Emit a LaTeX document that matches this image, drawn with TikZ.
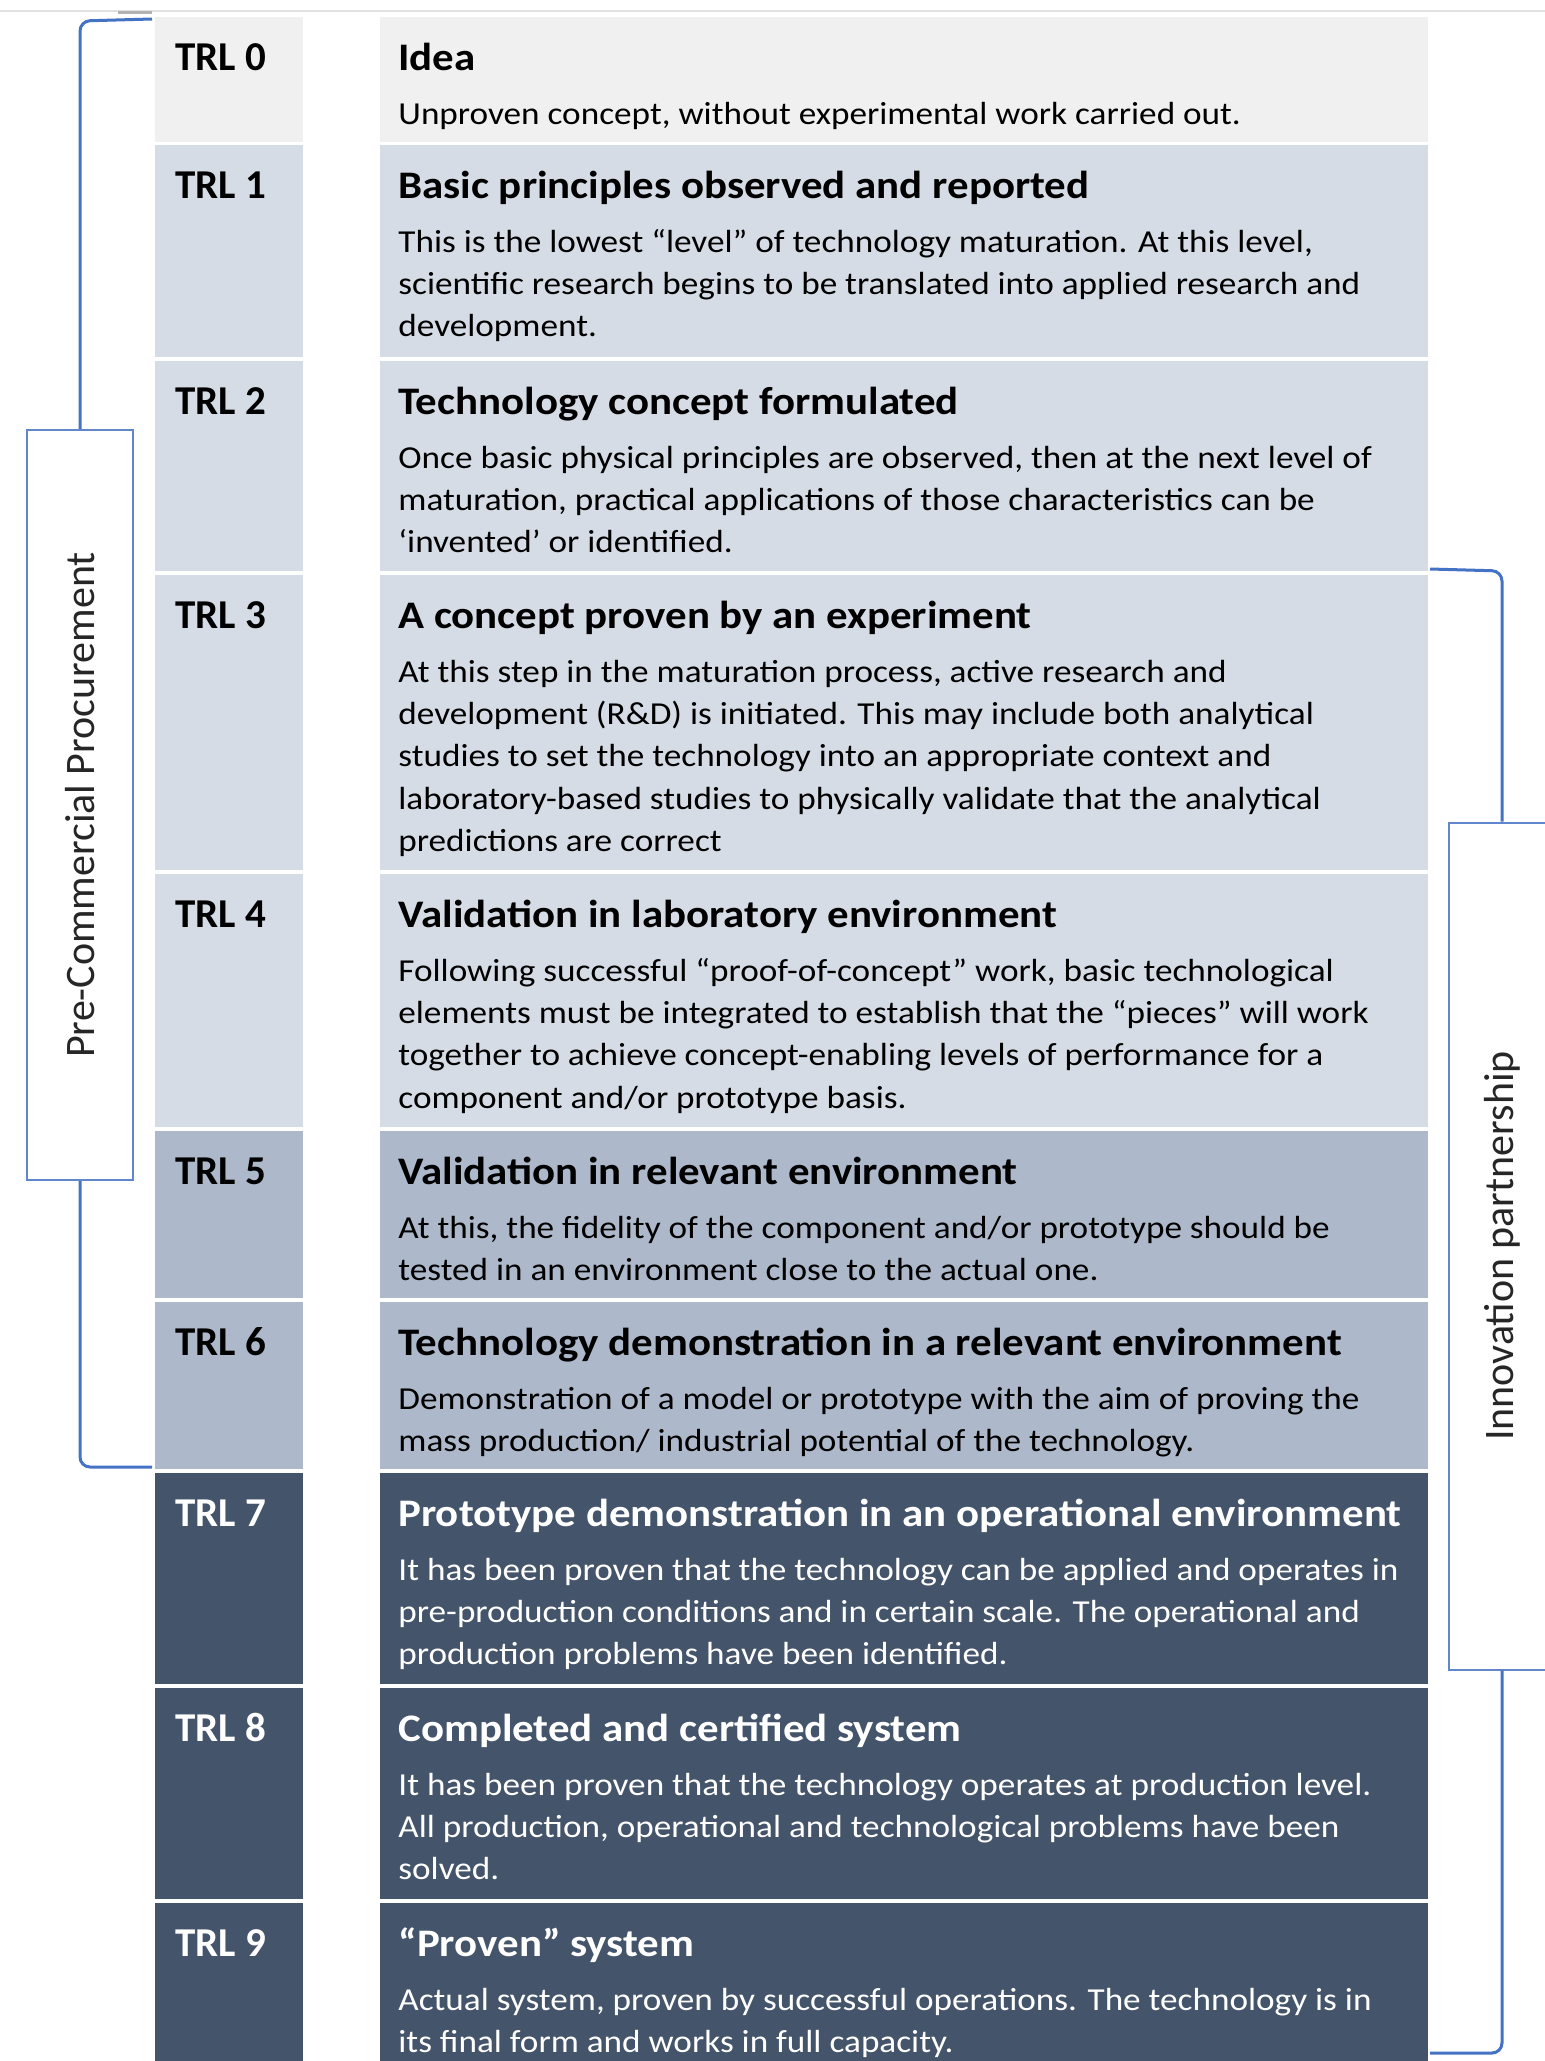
\documentclass[tikz,border=0pt]{standalone}
\usepackage{fontspec}
\setmainfont{Carlito}
\newfontfamily\widefont{Carlito}[FakeStretch=1.1]
\definecolor{rowA}{HTML}{F0F0F0}
\definecolor{rowB}{HTML}{D6DCE5}
\definecolor{rowC}{HTML}{ADB9CA}
\definecolor{rowD}{HTML}{44546A}
\definecolor{brk}{HTML}{4472C4}
\newcommand\bodytext[1]{\parbox[t]{700pt}{\widefont\fontsize{16}{21.2}\selectfont\raggedright #1}}
\tikzset{
  lbl/.style={anchor=base west, inner sep=0pt, font=\fontsize{20.5}{24}\selectfont\bfseries},
  ttl/.style={anchor=base west, inner sep=0pt, font=\widefont\fontsize{19.5}{23}\selectfont\bfseries},
  bdy/.style={anchor=base west, inner sep=0pt},
  brkline/.style={draw=brk, line width=1.5pt, rounded corners=5pt},
  brkbox/.style={draw=brk!85, line width=1pt, fill=white, rotate=90, inner sep=0pt,
     font=\fontsize{21}{25}\selectfont, text=black!85},
}
\newcommand\trlrow[7]{%
  \fill[#4] (155,#2) rectangle (303,#3);
  \fill[#4] (380,#2) rectangle (1428,#3);
  \node[lbl,text=#5] (trl#1) at (175,#2+53) {TRL #1};
  \node[ttl,text=#5] (title#1) at (398,#2+53) {#6};
  \node[bdy,text=#5] (body#1) at (398,#2+107) {\bodytext{#7}};
}
\begin{document}
\begin{tikzpicture}[x=0.5pt,y=-0.5pt]
\useasboundingbox (0,0) rectangle (1545,2061);
\fill[white] (0,0) rectangle (1545,2061);
\draw[black!12, line width=1pt] (0,11) -- (1545,11);
\draw[black!30, line width=1.5pt] (118,12) -- (152,12);

\trlrow{0}{17}{142}{rowA}{black}{Idea}{Unproven concept, without experimental work carried out.}
\trlrow{1}{145}{357}{rowB}{black}{Basic principles observed and reported}{This is the lowest “level” of technology maturation. At this level,\\scientific research begins to be translated into applied research and\\development.}
\trlrow{2}{361}{571}{rowB}{black}{Technology concept formulated}{Once basic physical principles are observed, then at the next level of\\maturation, practical applications of those characteristics can be\\‘invented’ or identified.}
\trlrow{3}{575}{870}{rowB}{black}{A concept proven by an experiment}{At this step in the maturation process, active research and\\development (R\&D) is initiated. This may include both analytical\\studies to set the technology into an appropriate context and\\laboratory-based studies to physically validate that the analytical\\predictions are correct}
\trlrow{4}{874}{1127}{rowB}{black}{Validation in laboratory environment}{Following successful “proof-of-concept” work, basic technological\\elements must be integrated to establish that the “pieces” will work\\together to achieve concept-enabling levels of performance for a\\component and/or prototype basis.}
\trlrow{5}{1131}{1298}{rowC}{black}{Validation in relevant environment}{At this, the fidelity of the component and/or prototype should be\\tested in an environment close to the actual one.}
\trlrow{6}{1302}{1469}{rowC}{black}{Technology demonstration in a relevant environment}{Demonstration of a model or prototype with the aim of proving the\\mass production/ industrial potential of the technology.}
\trlrow{7}{1473}{1684}{rowD}{white}{Prototype demonstration in an operational environment}{It has been proven that the technology can be applied and operates in\\pre-production conditions and in certain scale. The operational and\\production problems have been identified.}
\trlrow{8}{1688}{1899}{rowD}{white}{Completed and certified system}{It has been proven that the technology operates at production level.\\All production, operational and technological problems have been\\solved.}
\trlrow{9}{1903}{2075}{rowD}{white}{“Proven” system}{Actual system, proven by successful operations. The technology is in\\its final form and works in full capacity.}

% left bracket
\node[brkbox, minimum width=375pt, minimum height=53pt] (pcp) at (80,805) {Pre-Commercial Procurement};
\coordinate (ltop) at (152,19);
\coordinate (lbot) at (152,1467);
\draw[brkline] (ltop) -- (80,21) -- (pcp.east);
\draw[brkline] (pcp.west) -- (80,1467) -- (lbot);

% right bracket
\node[brkbox, minimum width=423.5pt, minimum height=53pt] (ip) at (1502,1246) {Innovation partnership};
\coordinate (rtop) at (1430,569);
\coordinate (rbot) at (1430,2053);
\draw[brkline] (rtop) -- (1502,571) -- (ip.east);
\draw[brkline] (ip.west) -- (1502,2053) -- (rbot);
\end{tikzpicture}
\end{document}
